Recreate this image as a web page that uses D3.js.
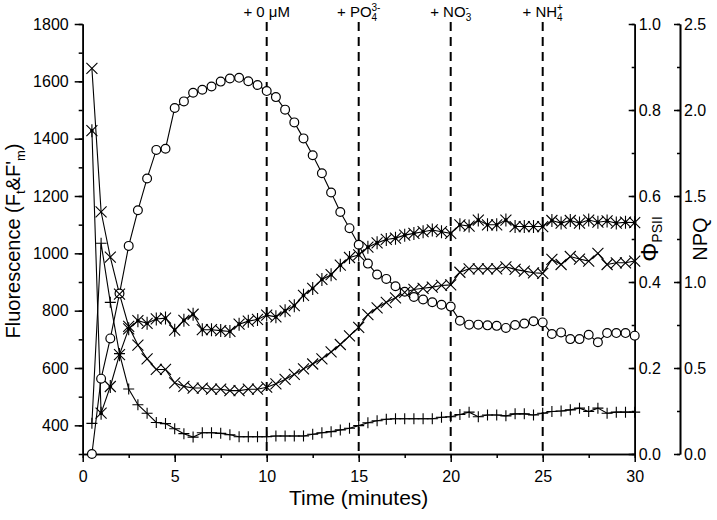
<!DOCTYPE html>
<html><head><meta charset="utf-8">
<script src="https://cdn.jsdelivr.net/npm/d3@7"></script>
<style>
body{margin:0;background:#fff}
text{font-family:Arial,"Liberation Sans",sans-serif;fill:#000}
</style>
</head><body>
<svg id="c" width="717" height="520"></svg>
<script>
// ---- data ----
const time = [0.5,1,1.5,2,2.5,3,3.5,4,4.5,5,5.5,6,6.5,7,7.5,8,8.5,9,9.5,10,
  10.5,11,11.5,12,12.5,13,13.5,14,14.5,15,15.5,16,16.5,17,17.5,18,18.5,19,19.5,20,
  20.5,21,21.5,22,22.5,23,23.5,24,24.5,25,25.5,26,26.5,27,27.5,28,28.5,29,29.5,30];
// Ft (plus markers), left axis
const ft = [407,1035,829,650,527,472,442,410,406,388,371,359,374,374,372,367,360,360,360,360,
  363,363,363,363,369,374,378,384,390,399,409,416,421,423,423,423,423,423,428,430,
  438,446,430,436,436,433,440,440,436,442,448,450,454,460,448,460,442,446,446,446];
// F'm (x markers), left axis
const fm = [1645,1145,987,858,745,680,632,595,595,548,536,530,530,526,526,521,521,526,526,533,
  545,560,578,597,614,632,656,682,712,742,786,810,829,845,864,874,878,882,888,890,
  934,946,946,946,946,953,944,938,932,930,979,961,989,980,973,1000,961,967,967,973];
// PhiPSII (asterisk markers), right axis 0-1
const phi = [0.752,0.095,0.157,0.231,0.291,0.310,0.304,0.314,0.316,0.288,0.311,0.325,0.289,0.289,0.287,0.285,0.302,0.309,0.313,0.323,
  0.319,0.333,0.345,0.369,0.385,0.406,0.417,0.439,0.457,0.463,0.481,0.491,0.499,0.502,0.509,0.513,0.517,0.521,0.517,0.513,
  0.533,0.530,0.544,0.533,0.533,0.544,0.529,0.529,0.529,0.529,0.543,0.537,0.543,0.537,0.544,0.539,0.542,0.537,0.539,0.538];
// NPQ (circle markers), right axis 0-2.5
const npq = [0,0.438,0.672,0.933,1.21,1.417,1.602,1.768,1.775,2.012,2.05,2.10,2.118,2.137,2.165,2.183,2.187,2.167,2.145,2.11,
  2.075,2.002,1.928,1.835,1.737,1.632,1.52,1.407,1.313,1.217,1.107,1.043,1.018,0.975,0.943,0.913,0.898,0.882,0.868,0.857,
  0.775,0.752,0.752,0.748,0.745,0.733,0.75,0.758,0.772,0.765,0.698,0.707,0.668,0.668,0.693,0.65,0.703,0.703,0.703,0.688];

const xTicks = [0,5,10,15,20,25,30];
const xMinor = [0,2.5,5,7.5,10,12.5,15,17.5,20,22.5,25,27.5,30];
const fTicks = [400,600,800,1000,1200,1400,1600,1800];
const fMinor = [300,400,500,600,700,800,900,1000,1100,1200,1300,1400,1500,1600,1700,1800];
const phiTicks = [0,0.2,0.4,0.6,0.8,1.0];
const phiMinor = [0,0.1,0.2,0.3,0.4,0.5,0.6,0.7,0.8,0.9,1.0];
const npqTicks = [0,0.5,1.0,1.5,2.0,2.5];
const npqMinor = [0,0.25,0.5,0.75,1.0,1.25,1.5,1.75,2.0,2.25,2.5];
const additions = [10,15,20,25];

// ---- scales ----
const svg = d3.select("#c");
const x = d3.scaleLinear().domain([0,30]).range([82.7,634.7]);
const yF = d3.scaleLinear().domain([300,1800]).range([454,24]);
const yPhi = d3.scaleLinear().domain([0,1]).range([454,24]);
const yNpq = d3.scaleLinear().domain([0,2.5]).range([454,24]);

function styleAxis(g){
  g.selectAll("path.domain").attr("stroke","#000").attr("stroke-width",1.6);
  g.selectAll(".tick line").attr("stroke","#000").attr("stroke-width",1.5);
  g.selectAll("text").attr("font-size",16).attr("font-family","Arial, 'Liberation Sans', sans-serif");
}

// x axis
svg.append("g").attr("transform","translate(0,454)")
  .call(d3.axisBottom(x).tickValues(xMinor).tickSize(4).tickFormat("").tickSizeOuter(0)).call(styleAxis);
svg.append("g").attr("transform","translate(0,454)")
  .call(d3.axisBottom(x).tickValues(xTicks).tickSize(8).tickPadding(9).tickFormat(d3.format("d")).tickSizeOuter(0)).call(styleAxis);

// left axis
svg.append("g").attr("transform","translate(82.7,0)")
  .call(d3.axisLeft(yF).tickValues(fMinor).tickSize(4).tickFormat("").tickSizeOuter(0)).call(styleAxis);
svg.append("g").attr("transform","translate(82.7,0)")
  .call(d3.axisLeft(yF).tickValues(fTicks).tickSize(8).tickPadding(6).tickFormat(d3.format("d")).tickSizeOuter(0)).call(styleAxis);

// phi axis (ticks inward)
svg.append("g").attr("transform","translate(634.7,0)")
  .call(d3.axisRight(yPhi).tickValues(phiMinor).tickSize(-3).tickFormat("").tickSizeOuter(0)).call(styleAxis);
svg.append("g").attr("transform","translate(634.7,0)")
  .call(d3.axisRight(yPhi).tickValues(phiTicks).tickSize(-6).tickPadding(4).tickFormat(d3.format(".1f")).tickSizeOuter(0)).call(styleAxis);

// NPQ axis
svg.append("g").attr("transform","translate(680,0)")
  .call(d3.axisRight(yNpq).tickValues(npqMinor).tickSize(-3).tickFormat("").tickSizeOuter(0)).call(styleAxis);
svg.append("g").attr("transform","translate(680,0)")
  .call(d3.axisRight(yNpq).tickValues(npqTicks).tickSize(-6).tickPadding(4).tickFormat(d3.format(".1f")).tickSizeOuter(0)).call(styleAxis);

// dashed addition lines
svg.append("g").selectAll("line").data(additions).join("line")
  .attr("x1",d=>x(d)).attr("x2",d=>x(d)).attr("y1",22).attr("y2",454)
  .attr("stroke","#000").attr("stroke-width",2).attr("stroke-dasharray","9,6");

// annotations
const ann = svg.append("g").attr("font-size",15);
function addLabel(xv, parts){
  const t = ann.append("text").attr("x",x(xv)).attr("y",17).attr("text-anchor","middle").attr("font-size",15);
  parts.forEach(p=>{
    const s = t.append("tspan").text(p.t);
    if(p.size) s.attr("font-size",p.size);
    if(p.dy!==undefined) s.attr("dy",p.dy);
    if(p.dx!==undefined) s.attr("dx",p.dx);
  });
}
addLabel(10,[{t:"+ 0 μM"}]);
addLabel(15,[{t:"+ PO"},{t:"4",size:10,dy:4},{t:"3-",size:10,dx:-5.6,dy:-10}]);
addLabel(20,[{t:"+ NO"},{t:"3",size:10,dy:4},{t:"-",size:10,dx:-5.6,dy:-10}]);
addLabel(25,[{t:"+ NH"},{t:"4",size:10,dy:4},{t:"+",size:10,dx:-5.6,dy:-10}]);

// series lines
function addLine(vals, yS){
  svg.append("path").datum(time.map((t,i)=>[t,vals[i]]))
    .attr("fill","none").attr("stroke","#000").attr("stroke-width",1.1)
    .attr("d", d3.line().x(d=>x(d[0])).y(d=>yS(d[1])));
}
addLine(npq, yNpq);
addLine(ft, yF);
addLine(fm, yF);
addLine(phi, yPhi);

// markers
const pts = (vals,yS)=>time.map((t,i)=>({px:x(t),py:yS(vals[i])}));
// circles (NPQ)
svg.append("g").selectAll("circle").data(pts(npq,yNpq)).join("circle")
  .attr("cx",d=>d.px).attr("cy",d=>d.py).attr("r",4.4)
  .attr("fill","#fff").attr("stroke","#000").attr("stroke-width",1.2);
// plus (Ft)
svg.append("g").selectAll("path").data(pts(ft,yF)).join("path")
  .attr("d",d=>`M${d.px-5.5},${d.py}H${d.px+5.5}M${d.px},${d.py-5.5}V${d.py+5.5}`)
  .attr("stroke","#000").attr("stroke-width",1.1).attr("fill","none");
// cross (F'm)
svg.append("g").selectAll("path").data(pts(fm,yF)).join("path")
  .attr("d",d=>{const s=5.5;return `M${d.px-s},${d.py-s}L${d.px+s},${d.py+s}M${d.px-s},${d.py+s}L${d.px+s},${d.py-s}`;})
  .attr("stroke","#000").attr("stroke-width",1.1).attr("fill","none");
// asterisk (PhiPSII)
const ast = svg.append("g").selectAll("g").data(pts(phi,yPhi)).join("g");
ast.append("path")
  .attr("d",d=>{const s=5.5,v=6.5;return `M${d.px-s},${d.py-s}L${d.px+s},${d.py+s}M${d.px-s},${d.py+s}L${d.px+s},${d.py-s}M${d.px},${d.py-v}V${d.py+v}`;})
  .attr("stroke","#000").attr("stroke-width",1.1).attr("fill","none");
ast.append("circle").attr("cx",d=>d.px).attr("cy",d=>d.py).attr("r",1.8).attr("fill","#000");

// axis titles
svg.append("text").attr("x",x(15)).attr("y",505).attr("text-anchor","middle").attr("font-size",21)
  .text("Time (minutes)");

const yl = svg.append("text").attr("transform","translate(20,241) rotate(-90)")
  .attr("text-anchor","middle").attr("font-size",20);
yl.append("tspan").text("Fluorescence (F");
yl.append("tspan").text("t").attr("font-size",13).attr("dy",5);
yl.append("tspan").text("&F'").attr("dy",-5);
yl.append("tspan").text("m").attr("font-size",13).attr("dy",5);
yl.append("tspan").text(")").attr("dy",-5);

const pl = svg.append("text").attr("transform","translate(658,239) rotate(-90)")
  .attr("text-anchor","middle").attr("font-size",24);
pl.append("tspan").text("Φ");
pl.append("tspan").text("PSII").attr("font-size",14).attr("dy",4);

svg.append("text").attr("transform","translate(707,239) rotate(-90)")
  .attr("text-anchor","middle").attr("font-size",20).text("NPQ");
</script>
</body></html>
